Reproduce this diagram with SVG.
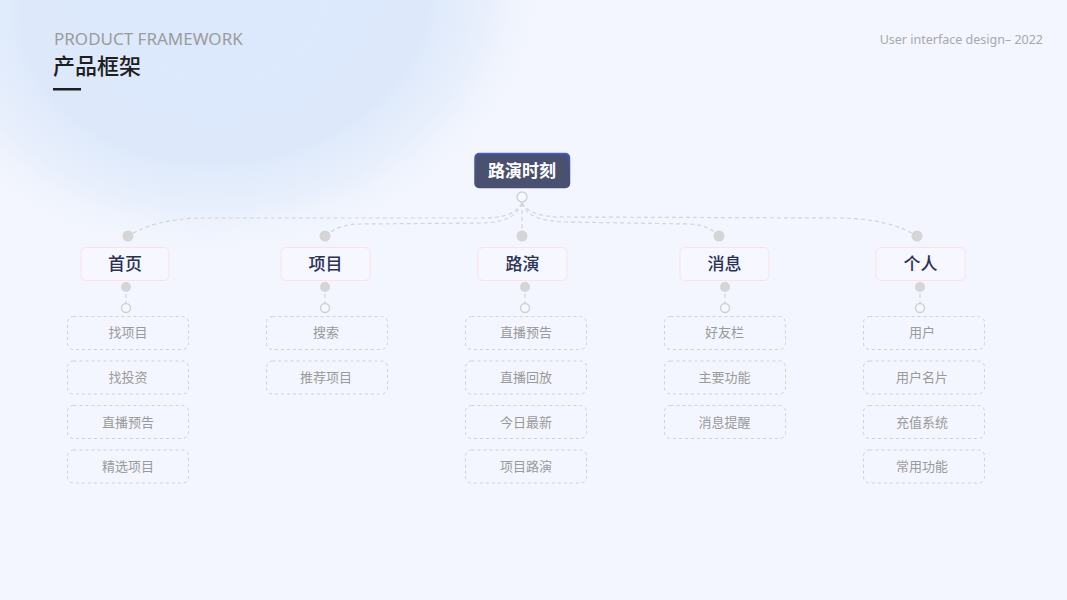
<svg xmlns="http://www.w3.org/2000/svg" width="1067" height="600" viewBox="0 0 1067 600">
<defs>
<radialGradient id="blob" cx="0.5" cy="0.5" r="0.5">
<stop offset="0" stop-color="#dce8fc"/>
<stop offset="0.62" stop-color="#dde9fb"/>
<stop offset="0.8" stop-color="#e6eefc" stop-opacity="0.8"/>
<stop offset="1" stop-color="#f3f6fe" stop-opacity="0"/>
</radialGradient>
<linearGradient id="rootStroke" x1="0" y1="0" x2="0" y2="1">
<stop offset="0" stop-color="#3f5ce6"/>
<stop offset="0.35" stop-color="#4a5290"/>
<stop offset="1" stop-color="#4a5070"/>
</linearGradient>
<style>
.cat rect{fill:#f6f7ff;stroke:#fbe2e6;stroke-width:1}
.cat text{font-family:"Noto Sans CJK SC","Noto Sans",sans-serif;font-size:17px;font-weight:500;fill:#2b3157;text-anchor:middle}
.leaf rect{fill:none;stroke:#cfd1d8;stroke-width:1;stroke-dasharray:3 3}
.leaf text{font-family:"Noto Sans CJK SC","Noto Sans",sans-serif;font-size:13px;fill:#9a9a9a;text-anchor:middle}
.dash{fill:none;stroke:#d3d4da;stroke-width:1.2;stroke-dasharray:4 3}
.dot{fill:#d5d5d7}
.ring{fill:#f7f8fd;stroke:#cfd0d4;stroke-width:1.4}
</style>
</defs>
<rect width="1067" height="600" fill="#f3f6fe"/>
<ellipse cx="225" cy="0" rx="330" ry="260" fill="url(#blob)" transform="rotate(-8 225 0)"/>

<g id="header">
<text x="54" y="45" font-family="'Noto Sans','Open Sans',sans-serif" font-size="17" fill="#9b9b9b">PRODUCT FRAMEWORK</text>
<text x="53" y="74" font-family="'Noto Sans CJK SC',sans-serif" font-size="22" font-weight="500" fill="#1e1e1e">产品框架</text>
<rect x="53" y="88" width="28" height="2.5" fill="#1e1e1e"/>
<text x="1043" y="44" text-anchor="end" font-family="'Noto Sans','Open Sans',sans-serif" font-size="12.5" fill="#a8a8ad">User interface design– 2022</text>
</g>

<g id="connectors">
<path class="dash" d="M522,203 C515,214 505,218 480,218 L200,218 C165,219 145,226 128,236"/>
<path class="dash" d="M522,203 C517,216 505,223 480,223 L360,224 C345,224 335,228 325,236"/>
<path class="dash" d="M522,203 L522,236"/>
<path class="dash" d="M522,203 C527,216 540,221 565,222 L690,224 C705,225 712,229 719,236"/>
<path class="dash" d="M522,203 C529,213 540,217 565,217 L840,218 C880,219 900,226 917,236"/>
<path class="dash" d="M126,287 V308"/>
<path class="dash" d="M325,287 V308"/>
<path class="dash" d="M525,287 V308"/>
<path class="dash" d="M725,287 V308"/>
<path class="dash" d="M920,287 V308"/>
<circle class="ring" cx="522" cy="197" r="5"/>
<circle class="dot" cx="128" cy="236" r="5.5"/>
<circle class="dot" cx="325" cy="236" r="5.5"/>
<circle class="dot" cx="522" cy="236" r="5.5"/>
<circle class="dot" cx="719" cy="236" r="5.5"/>
<circle class="dot" cx="917" cy="236" r="5.5"/>
<circle class="dot" cx="126" cy="287" r="5"/>
<circle class="dot" cx="325" cy="287" r="5"/>
<circle class="dot" cx="525" cy="287" r="5"/>
<circle class="dot" cx="725" cy="287" r="5"/>
<circle class="dot" cx="920" cy="287" r="5"/>
<circle class="ring" cx="126" cy="308" r="4.5"/>
<circle class="ring" cx="325" cy="308" r="4.5"/>
<circle class="ring" cx="525" cy="308" r="4.5"/>
<circle class="ring" cx="725" cy="308" r="4.5"/>
<circle class="ring" cx="920" cy="308" r="4.5"/>
</g>

<g id="root">
<rect x="475" y="153.5" width="94.5" height="34" rx="4" fill="#4a5070" stroke="url(#rootStroke)" stroke-width="1.5"/>
<text x="522" y="177" text-anchor="middle" font-family="'Noto Sans CJK SC',sans-serif" font-size="17" font-weight="700" fill="#ffffff">路演时刻</text>
</g>

<g id="cat-home" class="cat"><rect x="81" y="247.5" width="88" height="33" rx="5"/><text x="125" y="270">首页</text></g>
<g id="cat-project" class="cat"><rect x="281" y="247.5" width="89" height="33" rx="5"/><text x="325.5" y="270">项目</text></g>
<g id="cat-roadshow" class="cat"><rect x="478" y="247.5" width="89" height="33" rx="5"/><text x="522.5" y="270">路演</text></g>
<g id="cat-message" class="cat"><rect x="680" y="247.5" width="89" height="33" rx="5"/><text x="724.5" y="270">消息</text></g>
<g id="cat-personal" class="cat"><rect x="876" y="247.5" width="89" height="33" rx="5"/><text x="920.5" y="270">个人</text></g>

<g id="leaf-home-1" class="leaf"><rect x="67.5" y="316.5" width="121" height="33" rx="6"/><text x="128" y="337">找项目</text></g>
<g id="leaf-home-2" class="leaf"><rect x="67.5" y="361" width="121" height="33" rx="6"/><text x="128" y="382">找投资</text></g>
<g id="leaf-home-3" class="leaf"><rect x="67.5" y="405.5" width="121" height="33" rx="6"/><text x="128" y="426.5">直播预告</text></g>
<g id="leaf-home-4" class="leaf"><rect x="67.5" y="450" width="121" height="33" rx="6"/><text x="128" y="471">精选项目</text></g>

<g id="leaf-project-1" class="leaf"><rect x="266.5" y="316.5" width="121" height="33" rx="6"/><text x="326" y="337">搜索</text></g>
<g id="leaf-project-2" class="leaf"><rect x="266.5" y="361" width="121" height="33" rx="6"/><text x="326" y="382">推荐项目</text></g>

<g id="leaf-roadshow-1" class="leaf"><rect x="465.5" y="316.5" width="121" height="33" rx="6"/><text x="526" y="337">直播预告</text></g>
<g id="leaf-roadshow-2" class="leaf"><rect x="465.5" y="361" width="121" height="33" rx="6"/><text x="526" y="382">直播回放</text></g>
<g id="leaf-roadshow-3" class="leaf"><rect x="465.5" y="405.5" width="121" height="33" rx="6"/><text x="526" y="426.5">今日最新</text></g>
<g id="leaf-roadshow-4" class="leaf"><rect x="465.5" y="450" width="121" height="33" rx="6"/><text x="526" y="471">项目路演</text></g>

<g id="leaf-message-1" class="leaf"><rect x="664.5" y="316.5" width="121" height="33" rx="6"/><text x="724.5" y="337">好友栏</text></g>
<g id="leaf-message-2" class="leaf"><rect x="664.5" y="361" width="121" height="33" rx="6"/><text x="724.5" y="382">主要功能</text></g>
<g id="leaf-message-3" class="leaf"><rect x="664.5" y="405.5" width="121" height="33" rx="6"/><text x="724.5" y="426.5">消息提醒</text></g>

<g id="leaf-personal-1" class="leaf"><rect x="863.5" y="316.5" width="121" height="33" rx="6"/><text x="922" y="337">用户</text></g>
<g id="leaf-personal-2" class="leaf"><rect x="863.5" y="361" width="121" height="33" rx="6"/><text x="922" y="382">用户名片</text></g>
<g id="leaf-personal-3" class="leaf"><rect x="863.5" y="405.5" width="121" height="33" rx="6"/><text x="922" y="426.5">充值系统</text></g>
<g id="leaf-personal-4" class="leaf"><rect x="863.5" y="450" width="121" height="33" rx="6"/><text x="922" y="471">常用功能</text></g>
</svg>
